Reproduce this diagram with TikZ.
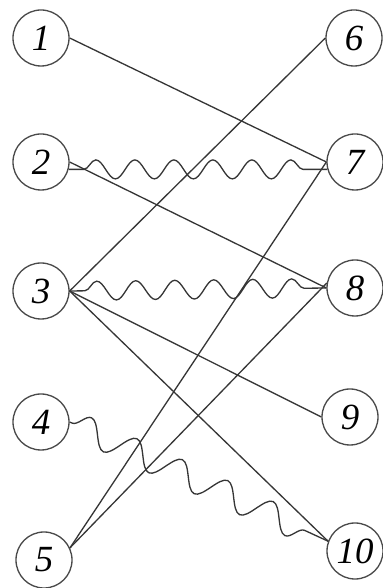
\documentclass[tikz,border=0pt]{standalone}
\usepackage{fontspec}
\setmainfont{Liberation Serif}
\usetikzlibrary{decorations.pathmorphing}
\definecolor{Ink}{HTML}{363636}
\definecolor{Rim}{HTML}{4A4A4A}

\begin{document}
\begin{tikzpicture}[every node/.style={circle,draw=Rim,line width=0.75pt,
  minimum size=1.12cm,inner sep=0pt,font=\fontsize{21}{24}\selectfont\itshape},
  link/.style={draw=Ink,line width=0.75pt},
  wave/.style={link,decorate,decoration={snake,segment length=0.78cm,
    amplitude=0.19cm,pre length=0.3cm,post length=0.1cm}},
  bigwave/.style={wave,decoration={segment length=1.0cm,amplitude=0.26cm,
    pre length=0.05cm}}]
  \useasboundingbox (0,0) rectangle (7.66,11.76);
  \foreach \i/\y in {1/11.00,2/8.52,3/5.94,4/3.32} {\node (l\i) at (0.82,\y) {\i};}
  \node (l5) at (0.88,0.56) {5};
  \foreach \j/\x/\y in {6/7.08/11.00,7/7.10/8.52,8/7.10/6.00,9/7.00/3.42,10/7.10/0.74}
    {\node (r\j) at (\x,\y) {\j};}
  \foreach \a/\b in {l1.east/r7.west,l2.east/r8.west,l3.east/r6.west,l3.east/r9.west,
    l3.east/r10.160,l5.25/r7.west,l5.25/r8.170} {\draw[link] (\a)--(\b);}
  \draw[wave] (l2.-15)--(r7.195);
  \draw[wave] (l3.east)--(r8.west);
  \draw[bigwave] (l4.east)--(r10.160);
\end{tikzpicture}
\end{document}
